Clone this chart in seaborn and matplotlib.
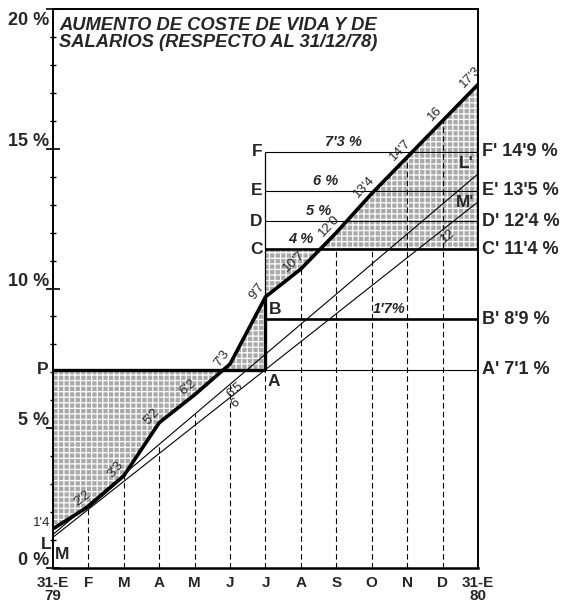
import numpy as np
import matplotlib
matplotlib.use("Agg")
import matplotlib.pyplot as plt
import seaborn as sns

# ---------------- data ----------------
meses = list(range(13))
etiquetas_meses = ["31-E\n79", "F", "M", "A", "M", "J", "J", "A", "S", "O", "N", "D", "31-E\n80"]
coste_vida = [1.4, 2.2, 3.3, 5.2, 6.2, 7.3, 9.7, 10.7, 12.0, 13.4, 14.7, 16.0, 17.3]
etiquetas_coste = ["1'4", "2'2", "3'3", "5'2", "6'2", "7'3", "9'7", "10'7", "12'0", "13'4", "14'7", "16", "17'3"]

extremos_x = [0, 12]
salario_L = [1.2, 14.1]
salario_M = [1.1, 13.1]
marcas_L_mes = [5]
marcas_L_txt = ["6'5"]
marcas_M_mes = [5, 11]
marcas_M_txt = ["6", "12"]

mes_revision = 6
niveles_nombres = ["A", "B", "C", "D", "E", "F"]
niveles_valores = [7.1, 8.9, 11.4, 12.4, 13.5, 14.9]
niveles_derecha = ["A' 7'1 %", "B' 8'9 %", "C' 11'4 %", "D' 12'4 %", "E' 13'5 %", "F' 14'9 %"]
incrementos_txt = ["1'7%", "4 %", "5 %", "6 %", "7'3 %"]   # for B..F
incrementos_mes = [9.5, 7.0, 7.5, 7.7, 8.2]                # layout positions

y_ticks = [0, 5, 10, 15, 20]
y_tick_txt = ["0 %", "5 %", "10 %", "15 %", "20 %"]

titulo = "AUMENTO DE COSTE DE VIDA Y DE\nSALARIOS (RESPECTO AL 31/12/78)"

# ---------------- style ----------------
sns.set_theme(style="white")
plt.rcParams["font.family"] = ["Liberation Sans", "DejaVu Sans"]
plt.rcParams["hatch.linewidth"] = 0.9

fig = plt.figure(figsize=(5.62, 6.07), dpi=100)
ax = fig.add_axes([53 / 562, 1 - 568 / 607, (478 - 53) / 562, (568 - 9) / 607])
ax.set_xlim(0, 12)
ax.set_ylim(0, 20)

A = niveles_valores[0]
C = niveles_valores[2]
m = np.array(meses)
cv = np.array(coste_vida)

# shaded regions
hatch_kw = dict(facecolor="#a9a9a9", edgecolor="white", hatch="+++", linewidth=0, zorder=1)
ax.fill_between(m[: mes_revision + 1], cv[: mes_revision + 1], A, interpolate=True, **hatch_kw)
ax.fill_between(m[mes_revision:], cv[mes_revision:], C, interpolate=True, **hatch_kw)

# dashed month verticals
for k in meses[1:-1]:
    if k < mes_revision:
        top = np.interp(k, extremos_x, salario_L)
    elif k == mes_revision:
        top = A
    else:
        top = coste_vida[k]
    z = 2 if k >= 10 else 0.5
    ax.vlines(k, 0, top, colors="black", linestyles=(0, (5, 3)), linewidth=0.8, zorder=z)

# thin salary lines
sns.lineplot(x=extremos_x, y=salario_L, ax=ax, color="black", linewidth=0.8, zorder=3)
sns.lineplot(x=extremos_x, y=salario_M, ax=ax, color="black", linewidth=0.8, zorder=3)

# horizontal levels
ax.hlines(A, 0, mes_revision, colors="black", linewidth=2.4, zorder=4)
ax.hlines(A, mes_revision, 12, colors="black", linewidth=0.8, zorder=4)
for nombre, val in zip(niveles_nombres[1:], niveles_valores[1:]):
    lw = 1.9 if nombre in ("B", "C") else 0.8
    ax.hlines(val, mes_revision, 12, colors="black", linewidth=lw, zorder=4)

# vertical at revision month
ax.vlines(mes_revision, A, coste_vida[mes_revision], colors="black", linewidth=2.4, zorder=4)
ax.vlines(mes_revision, coste_vida[mes_revision], niveles_valores[-1], colors="black", linewidth=0.9, zorder=4)

# cost of living curve
sns.lineplot(x=meses, y=coste_vida, ax=ax, color="black", linewidth=2.6, zorder=5)

# spines / ticks
for s in ax.spines.values():
    s.set_visible(True)
    s.set_color("black")
    s.set_linewidth(1.4)
ax.spines["bottom"].set_linewidth(1.8)
ax.set_xticks(meses)
ax.set_xticklabels(etiquetas_meses, fontsize=11, fontweight="bold", linespacing=0.85)
ax.tick_params(axis="x", length=0, pad=6)
ax.set_yticks(y_ticks)
ax.set_yticks(range(0, 21), minor=True)
ax.set_yticklabels([])
ax.tick_params(axis="y", which="major", direction="inout", length=10, width=1.2, left=True, color="black")
ax.tick_params(axis="y", which="minor", direction="inout", length=5, width=1.0, left=True, color="black")
ax.grid(False)

def off_text(x, y, dx, dy, s, **kw):
    ax.annotate(s, xy=(x, y), xytext=(dx, dy), textcoords="offset pixels", annotation_clip=False, **kw)

for v, t in zip(y_ticks, y_tick_txt):
    if v == y_ticks[-1]:
        off_text(0, v, -4, -3, t, ha="right", va="top", fontsize=13, fontweight="bold")
    else:
        off_text(0, v, -4, 3, t, ha="right", va="baseline", fontsize=13, fontweight="bold")

# title
ax.text(0.015, 0.985, titulo, transform=ax.transAxes, ha="left", va="top",
        fontsize=13.2, fontweight="bold", fontstyle="italic", linespacing=1.0, zorder=6)

# curve labels along the curve
td = ax.transData
pts = td.transform(np.column_stack([m, cv]))
for k in range(1, 13):
    i0, i1 = max(k - 1, 0), min(k + 1, 12)
    dx, dy = pts[i1] - pts[i0]
    ang = np.arctan2(dy, dx)
    d = 10
    nx, ny = -np.sin(ang) * d, np.cos(ang) * d
    off_text(k, coste_vida[k], nx, ny, etiquetas_coste[k], ha="center", va="center",
             rotation=np.degrees(ang), fontsize=9.5, rotation_mode="anchor", zorder=6)
off_text(0, coste_vida[0], -3, 6, etiquetas_coste[0], ha="right", va="center", fontsize=9.5)

# salary line labels (below the lines)
for serie, meses_m, txts in ((salario_L, marcas_L_mes, marcas_L_txt), (salario_M, marcas_M_mes, marcas_M_txt)):
    p = td.transform(np.column_stack([extremos_x, serie]))
    dx, dy = p[1] - p[0]
    ang = np.arctan2(dy, dx)
    for k, t in zip(meses_m, txts):
        yv = np.interp(k, extremos_x, serie)
        d = 8
        off_text(k, yv, np.sin(ang) * d, -np.cos(ang) * d, t, ha="center", va="center",
                 rotation=np.degrees(ang), fontsize=9.5, rotation_mode="anchor", zorder=6)

# end letters of salary lines
big = dict(fontsize=12.5, fontweight="bold", zorder=7)
off_text(0, salario_L[0], -1, -10, "L", ha="right", va="center", **big)
off_text(0, salario_M[0], 2, -17, "M", ha="left", va="center", **big)
off_text(12, salario_L[-1], -4, 10, "L'", ha="right", va="center", **big)
off_text(12, salario_M[-1], -4, -1, "M'", ha="right", va="center", **big)

# level letters
off_text(0, A, -5, 0, "P", ha="right", va="center", **big)
off_text(mes_revision, A, 2, -4, "A", ha="left", va="top", **big)
off_text(mes_revision, niveles_valores[1], 3, 2, "B", ha="left", va="bottom", **big)
for nombre, val in zip(niveles_nombres[2:], niveles_valores[2:]):
    off_text(mes_revision, val, -3, 0, nombre, ha="right", va="center", **big)
for t, val in zip(niveles_derecha, niveles_valores):
    off_text(12, val, 4, 0, t, ha="left", va="center", fontsize=13, fontweight="bold")

# increment labels
for t, xm, val in zip(incrementos_txt, incrementos_mes, niveles_valores[1:]):
    off_text(xm, val, 0, 3, t, ha="center", va="bottom", fontsize=10.5, fontweight="bold",
             fontstyle="italic", zorder=6)

fig.savefig("out.png", dpi=100)
